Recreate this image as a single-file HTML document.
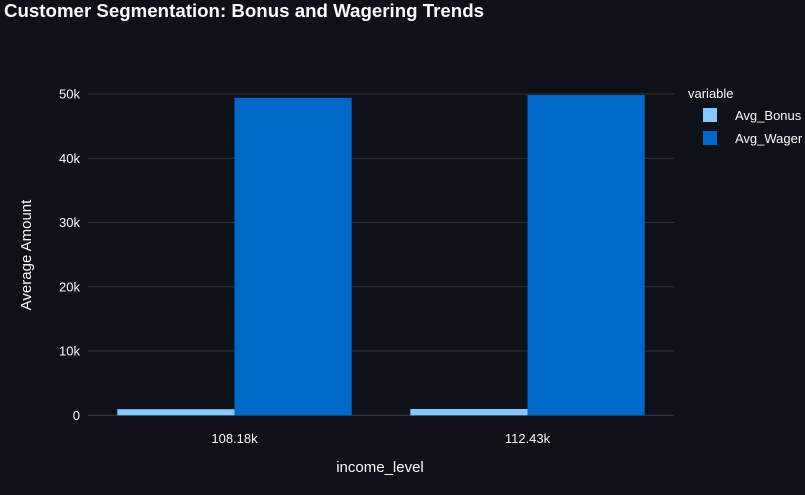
<!DOCTYPE html>
<html><head><meta charset="utf-8"><style>
body{margin:0;background:#0e1117;width:805px;height:490px;overflow:hidden;font-family:"Liberation Sans",sans-serif}
</style></head><body>
<svg width="805" height="490" xmlns="http://www.w3.org/2000/svg">
<rect width="805" height="490" fill="#0e1117"/>
<text x="4" y="17" fill="#fafafa" font-size="18" font-weight="bold" textLength="480" lengthAdjust="spacingAndGlyphs">Customer Segmentation: Bonus and Wagering Trends</text>
<g id="grid"></g>
<g id="bars"></g>
<g id="xt"></g>
<text x="380" y="472" fill="#fafafa" font-size="15" text-anchor="middle">income_level</text>
<text transform="translate(31,255) rotate(-90)" fill="#fafafa" font-size="15" text-anchor="middle">Average Amount</text>
<g>
<text x="688" y="98" fill="#fafafa" font-size="13">variable</text>
<g><rect x="703" y="108" width="14" height="14" fill="#83c9ff"/><text x="735" y="120" fill="#fafafa" font-size="13">Avg_Bonus</text></g>
<g><rect x="703" y="131" width="14" height="14" fill="#0068c9"/><text x="735" y="143" fill="#fafafa" font-size="13">Avg_Wager</text></g>
</g>
</svg>
<script>
const categories=["108.18k","112.43k"];
const bonusValues=[950,980];
const wagerValues=[49400,49850];
const yTicks=[0,10000,20000,30000,40000,50000];
const yTickLabels=["0","10k","20k","30k","40k","50k"];
const NS="http://www.w3.org/2000/svg";
const L=88,R=674,Y0=415.3,Y50=94;
const y=v=>Y0-(v/50000)*(Y0-Y50);
const band=(R-L)/categories.length;
const bw=band*0.4;
function mk(t,a,p){const e=document.createElementNS(NS,t);for(const k in a)e.setAttribute(k,a[k]);p.appendChild(e);return e;}
const grid=document.getElementById('grid');
yTicks.forEach((v,i)=>{
 const l=mk('line',{x1:L,x2:R,y1:y(v),y2:y(v),stroke:v===0?'#3a3d45':'#2e3138','stroke-width':1},grid);
 
 
 const t=mk('text',{x:L-8,y:y(v)+4.5,fill:'#fafafa','font-size':13,'text-anchor':'end'},grid);
 t.textContent=yTickLabels[i];
 
 
});
const bars=document.getElementById('bars');
categories.forEach((c,i)=>{
 const cx=L+band*(i+0.5);
 const b=mk('rect',{x:cx-bw,y:y(bonusValues[i]),width:bw,height:Y0-y(bonusValues[i]),fill:'#83c9ff'},bars);
 
 
 const w=mk('rect',{x:cx,y:y(wagerValues[i]),width:bw,height:Y0-y(wagerValues[i]),fill:'#0068c9'},bars);
 
 
 const t=mk('text',{x:cx,y:443,fill:'#fafafa','font-size':13,'text-anchor':'middle'},document.getElementById('xt'));
 t.textContent=c;
 
 
});
</script>
</body></html>
